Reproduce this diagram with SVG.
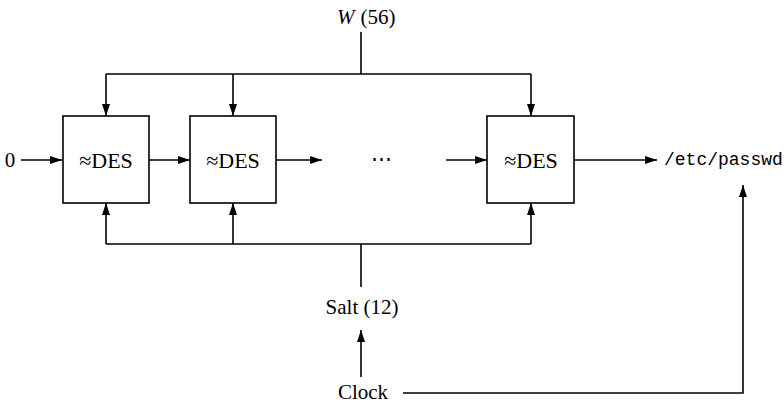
<svg xmlns="http://www.w3.org/2000/svg" width="784" height="405" viewBox="0 0 784 405">
<defs>
<marker id="ah" viewBox="0 0 12 8" refX="12" refY="4" markerWidth="12" markerHeight="8" markerUnits="userSpaceOnUse" orient="auto">
<path d="M0,0 L12,4 L0,8 Z" fill="#000"/>
</marker>
<style>
.ln{fill:none;stroke:#000;stroke-width:1.6}
.ar{fill:none;stroke:#000;stroke-width:1.6;marker-end:url(#ah)}
.box{fill:#fff;stroke:#000;stroke-width:1.6}
.t{font-family:"Liberation Serif","Times New Roman",serif;font-size:21px;fill:#000}
.d{font-family:"Liberation Serif","Times New Roman",serif;font-size:22px;fill:#000}
.m{font-family:"Liberation Mono","Courier New",monospace;font-size:18px;fill:#000}
</style>
</defs>
<rect width="784" height="405" fill="#fff"/>
<g id="connectors">
<path class="ln" d="M361,32 V74"/>
<path class="ln" d="M106,74 H531"/>
<path class="ar" d="M106,74 V116"/>
<path class="ar" d="M233,74 V116"/>
<path class="ar" d="M531,74 V116"/>
<path class="ln" d="M106,244 H531"/>
<path class="ar" d="M106,244 V203"/>
<path class="ar" d="M233,244 V203"/>
<path class="ar" d="M531,244 V203"/>
<path class="ln" d="M361,244 V287"/>
<path class="ar" d="M361,377 V330"/>
<path class="ar" d="M21,160 H62"/>
<path class="ar" d="M149,160 H190"/>
<path class="ar" d="M276,160 H322"/>
<path class="ar" d="M446,160 H487"/>
<path class="ar" d="M574,160 H657"/>
<path class="ar" d="M403,393 H743 V185"/>
</g>
<g id="des1"><rect class="box" x="63" y="116" width="86" height="87"/><text class="d" x="106" y="168" text-anchor="middle">≈DES</text></g>
<g id="des2"><rect class="box" x="190" y="116" width="86" height="87"/><text class="d" x="233" y="168" text-anchor="middle">≈DES</text></g>
<g id="des3"><rect class="box" x="487" y="116" width="87" height="87"/><text class="d" x="531" y="168" text-anchor="middle">≈DES</text></g>
<g id="dots"><text class="t" x="382" y="166" text-anchor="middle" letter-spacing="2">⋯</text></g>
<g id="zero"><text class="t" x="10" y="167" text-anchor="middle">0</text></g>
<g id="w"><text class="t" x="337" y="24"><tspan font-style="italic">W</tspan><tspan dx="6">(56)</tspan></text></g>
<g id="salt"><text class="t" x="362" y="314" text-anchor="middle">Salt (12)</text></g>
<g id="clock"><text class="t" x="363" y="399" text-anchor="middle">Clock</text></g>
<g id="passwd"><text class="m" x="664" y="165">/etc/passwd</text></g>
</svg>
